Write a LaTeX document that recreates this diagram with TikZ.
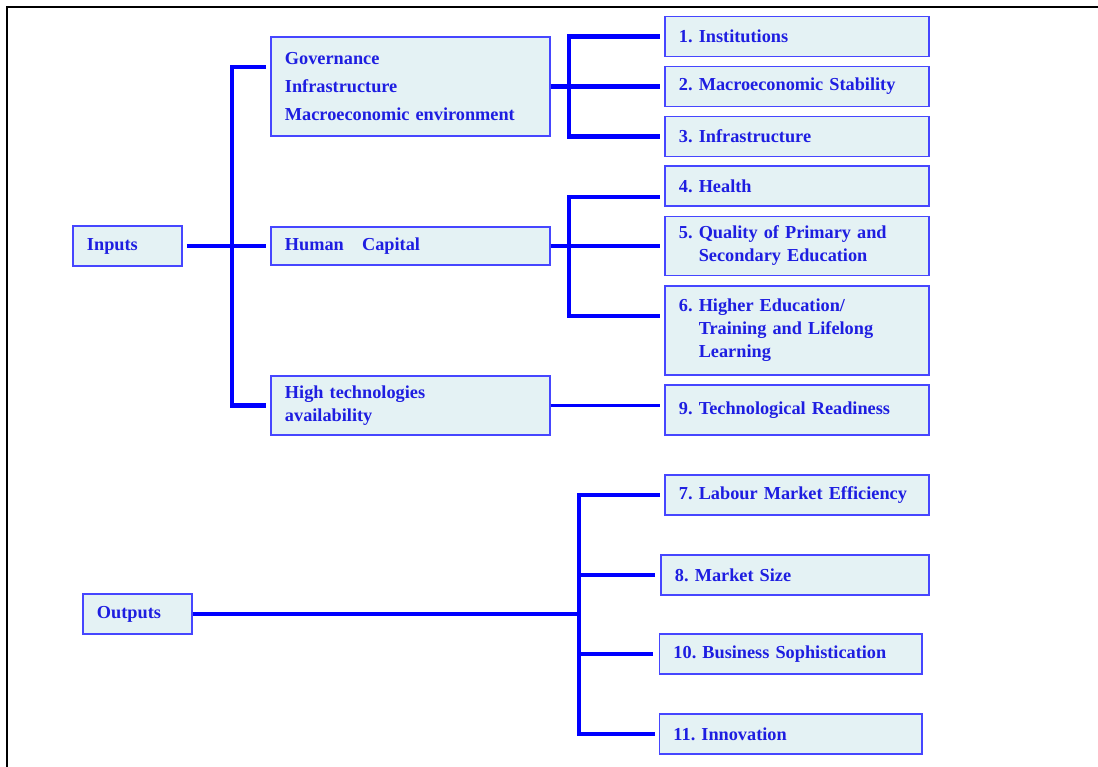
\documentclass[tikz,border=0pt]{standalone}
\usepackage{fontspec}
\setmainfont{Liberation Serif}
\usepackage{xcolor}
\usepackage{tikz}
\definecolor{color_boxfill}{RGB}{228,242,244}
\definecolor{color_boxline}{RGB}{70,70,255}
\definecolor{color_link}{RGB}{0,0,255}
\definecolor{color_text}{RGB}{30,30,225}

\tikzset{
	factor/.style={draw=color_boxline, fill=color_boxfill, line width=1pt,
		inner xsep=0.35cm, inner ysep=0pt, align=left, text=color_text,
		font=\fontsize{13}{16.4}\selectfont\bfseries\frenchspacing},
	link/.style={draw=color_link, line width=3.4pt},
	gap/.style={shorten <=3pt, shorten >=3pt},
}

\begin{document}
\begin{tikzpicture}[x=0.025cm, y=-0.025cm]
		\useasboundingbox (0,0) rectangle (1098,767);
		
		% Cadre
		\draw[black, line width=1.3pt] (7,767) -- (7,7) -- (1098,7);
		
		% Inputs
		\node[factor, text width=2.025cm, minimum height=1cm] (inputs) at (127.5,246) {Inputs};
		\node[factor, text width=6.275cm, minimum height=2.475cm] (gov) at (410.5,86.5)
		{Governance\\[3.5pt]Infrastructure\\[3.5pt]Macroeconomic environment};
		\node[factor, text width=6.275cm, minimum height=0.95cm] (hum) at (410.5,246) {Human~~~Capital};
		\node[factor, text width=6.275cm, minimum height=1.475cm] (tech) at (410.5,405.5)
		{High technologies\\availability};
		
		% Piliers
		\node[factor, text width=5.9cm, minimum height=1cm] (p1) at (797,36.5) {1. Institutions};
		\node[factor, text width=5.9cm, minimum height=1cm] (p2) at (797,86.5) {2. Macroeconomic Stability};
		\node[factor, text width=5.9cm, minimum height=1cm] (p3) at (797,136.5) {3. Infrastructure};
		\node[factor, text width=5.9cm, minimum height=1cm] (p4) at (797,186) {4. Health};
		\node[factor, text width=5.9cm, minimum height=1.475cm] (p5) at (797,246)
		{5. Quality of Primary and\\\hphantom{5. }Secondary Education};
		\node[factor, text width=5.9cm, minimum height=2.225cm] (p6) at (797,330.5)
		{6. Higher Education/\\\hphantom{6. }Training and Lifelong\\\hphantom{6. }Learning};
		\node[factor, text width=5.9cm, minimum height=1.25cm] (p9) at (797,410) {9. Technological Readiness};
		
		% Outputs
		\node[factor, text width=2.025cm, minimum height=1cm] (outputs) at (137.5,614) {Outputs};
		\node[factor, text width=5.9cm, minimum height=1cm] (p7) at (797,495) {7. Labour Market Efficiency};
		\node[factor, text width=6.0cm, minimum height=1cm] (p8) at (795,575) {8. Market Size};
		\node[factor, text width=5.8625cm, minimum height=1cm] (p10) at (790.75,654) {10. Business Sophistication};
		\node[factor, text width=5.8625cm, minimum height=1cm] (p11) at (790.75,734) {11. Innovation};
		
		% Liaisons inputs
		\coordinate (inTop) at (232,67);
		\coordinate (inBot) at (232,405.5);
		\draw[link, gap] (inputs.east) -- (hum.west);
		\draw[link, gap] (gov.west |- inTop) -- (inTop) -- (inBot) -- (tech.west |- inBot);
		
		% Liaisons gouvernance
		\coordinate (govJ) at (569,86.5);
		\draw[link, shorten >=3pt] (gov.east) -- (p2.west);
		\draw[link, gap] (p1.west) -| (govJ) |- (p3.west);
		
		% Liaisons capital humain
		\coordinate (humTop) at (569,197);
		\coordinate (humBot) at (569,316);
		\draw[link, shorten >=3pt] (hum.east) -- (p5.west);
		\draw[link, gap] (p4.west |- humTop) -- (humTop) -- (humBot) -- (p6.west |- humBot);
		
		% Liaison technologies
		\draw[link, line width=2.6pt, shorten >=3pt] (tech.east) -- (tech.east -| p9.west);
		
		% Liaisons outputs
		\coordinate (outJ) at (579,614);
		\draw[link] (outputs.east) -- (outJ);
		\draw[link, gap] (p7.west) -| (outJ |- p11.west) -- (p11.west);
		\draw[link, shorten >=4pt] (outJ |- p8.west) -- (p8.west);
		\draw[link, shorten >=4pt] (outJ |- p10.west) -- (p10.west);
	\end{tikzpicture}
\end{document}
